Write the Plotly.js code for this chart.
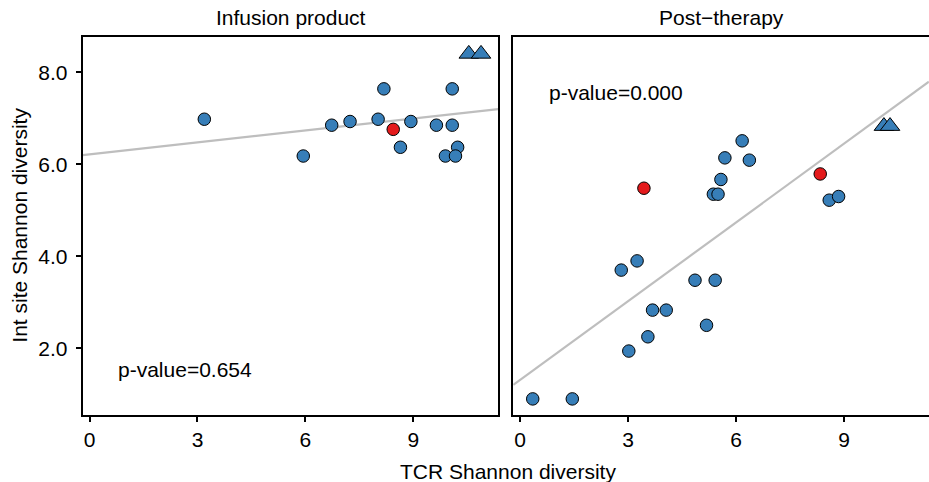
<!DOCTYPE html>
<html>
<head>
<meta charset="utf-8">
<script src="https://cdn.plot.ly/plotly-3.0.1.min.js"></script>
<style>html,body{margin:0;padding:0;background:#fff;}#chart{width:929px;height:482px;}</style>
</head>
<body>
<div id="chart"></div>
<script>
// ---- data ----
const panelTitles = ["Infusion product", "Post\u2212therapy"];
const pValues = ["p-value=0.654", "p-value=0.000"];
const xTicks = [0, 3, 6, 9];
const yTicks = [2, 4, 6, 8];

// Infusion product panel
const infBlueX = [3.19, 5.94, 6.73, 7.24, 8.02, 8.18, 8.64, 8.93, 9.64, 10.08, 10.08, 10.23, 9.89, 10.17];
const infBlueY = [6.98, 6.18, 6.85, 6.93, 6.98, 7.64, 6.37, 6.93, 6.85, 7.64, 6.85, 6.37, 6.18, 6.18];
const infRedX = [8.44];
const infRedY = [6.76];
const infTriX = [10.54, 10.88];
const infTriY = [8.40, 8.40];
const infFit = [6.216, 0.0866]; // intercept, slope

// Post-therapy panel
const postBlueX = [0.35, 1.45, 2.81, 3.25, 3.02, 3.55, 3.68, 4.06, 4.86, 5.42, 5.18, 6.17, 5.69, 6.37, 5.58, 5.37, 5.50, 8.59, 8.85];
const postBlueY = [0.90, 0.90, 3.70, 3.90, 1.94, 2.25, 2.83, 2.83, 3.48, 3.48, 2.50, 6.51, 6.14, 6.09, 5.67, 5.35, 5.35, 5.22, 5.30];
const postRedX = [3.44, 8.34];
const postRedY = [5.48, 5.79];
const postTriX = [10.11, 10.28];
const postTriY = [6.83, 6.83];
const postFit = [1.312, 0.5707];

// ---- styling ----
const FONT = "Liberation Sans, Arial, Helvetica, sans-serif";
const FS = 21;
const BLUE = "#377EB8", RED = "#E41A1C", GREY = "#BEBEBE";
const xRange = [-0.19, 11.36];
const yRange = [0.55, 8.774];

function fitLine(fit, xa, ya) {
  const xs = [xRange[0], xRange[1]];
  return {x: xs, y: xs.map(v => fit[0] + fit[1] * v), xaxis: xa, yaxis: ya,
    mode: "lines", line: {color: GREY, width: 2.2}, hoverinfo: "skip", showlegend: false};
}
function pts(x, y, color, symbol, size, xa, ya) {
  return {x: x, y: y, xaxis: xa, yaxis: ya, mode: "markers", showlegend: false,
    marker: {color: color, symbol: symbol, size: size, line: {color: "#000", width: 1}}};
}

const traces = [
  fitLine(infFit, "x", "y"),
  pts(infBlueX, infBlueY, BLUE, "circle", 12.5, "x", "y"),
  pts(infRedX, infRedY, RED, "circle", 12.5, "x", "y"),
  pts(infTriX, infTriY, BLUE, "triangle-up", 17, "x", "y"),
  fitLine(postFit, "x2", "y2"),
  pts(postBlueX, postBlueY, BLUE, "circle", 12.5, "x2", "y2"),
  pts(postRedX, postRedY, RED, "circle", 12.5, "x2", "y2"),
  pts(postTriX, postTriY, BLUE, "triangle-up", 17, "x2", "y2")
];

const W = 929, H = 482;
const axBase = {
  showline: true, mirror: true, linecolor: "#000", linewidth: 2,
  ticks: "outside", ticklen: 5, tickwidth: 2, tickcolor: "#000",
  showgrid: false, zeroline: false, fixedrange: true,
  tickfont: {family: FONT, size: FS, color: "#000"}
};
const xa = (dom, anchor) => Object.assign({}, axBase, {domain: dom, range: xRange, anchor: anchor, tickvals: xTicks});
const ya = (anchor, showLabels) => Object.assign({}, axBase, {domain: [1 - 415 / H, 1 - 36.7 / H], range: yRange, anchor: anchor,
  tickvals: yTicks, tickformat: ".1f", showticklabels: showLabels, ticks: showLabels ? "outside" : "", ticklabelstandoff: 4});

const layout = {
  width: W, height: H,
  margin: {l: 0, r: 0, t: 0, b: 0},
  paper_bgcolor: "#fff", plot_bgcolor: "#fff",
  font: {family: FONT, size: FS, color: "#000"},
  showlegend: false,
  xaxis: xa([82.7 / W, 498.3 / W], "y"),
  yaxis: ya("x", true),
  xaxis2: xa([513.3 / W, 928.9 / W], "y2"),
  yaxis2: ya("x2", false),
  annotations: [
    {text: panelTitles[0], xref: "x domain", yref: "paper", x: 0.5, y: 1 - 18 / H, xanchor: "center", yanchor: "middle", showarrow: false, font: {family: FONT, size: FS}},
    {text: panelTitles[1], xref: "x2 domain", yref: "paper", x: 0.5, y: 1 - 18 / H, xanchor: "center", yanchor: "middle", showarrow: false, font: {family: FONT, size: FS}},
    {text: pValues[0], xref: "x", yref: "y", x: 0.74, y: 1.53, xanchor: "left", yanchor: "middle", showarrow: false, font: {family: FONT, size: FS}},
    {text: pValues[1], xref: "x2", yref: "y2", x: 0.75, y: 7.55, xanchor: "left", yanchor: "middle", showarrow: false, font: {family: FONT, size: FS}},
    {text: "TCR Shannon diversity", xref: "paper", yref: "paper", x: 507.5 / W, y: 1 - 471 / H, xanchor: "center", yanchor: "middle", showarrow: false, font: {family: FONT, size: FS}},
    {text: "Int site Shannon diversity", xref: "paper", yref: "paper", x: 20 / W, y: 1 - 225.7 / H, xanchor: "center", yanchor: "middle", textangle: -90, showarrow: false, font: {family: FONT, size: FS}}
  ]
};

Plotly.newPlot("chart", traces, layout, {staticPlot: true, displayModeBar: false});
</script>
</body>
</html>
